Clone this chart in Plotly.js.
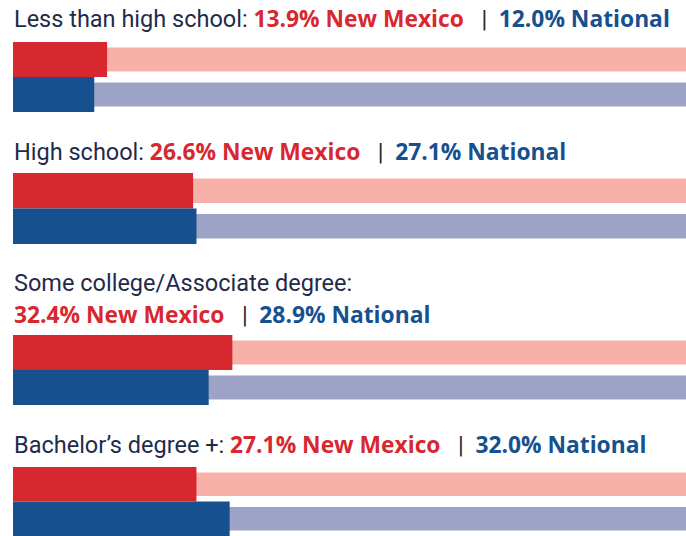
<!DOCTYPE html>
<html>
<head>
<meta charset="utf-8">
<script src="https://cdn.plot.ly/plotly-3.0.1.min.js"></script>
<style>
  html, body { margin: 0; padding: 0; background: #ffffff; }
  #chart { width: 686px; height: 536px; }
</style>
</head>
<body>
<div id="chart"></div>
<script>
// ---- data ----
const categories = ["Less than high school", "High school", "Some college/Associate degree", "Bachelor\u2019s degree +"];
const newMexico = [13.9, 26.6, 32.4, 27.1];
const national = [12.0, 27.1, 28.9, 32.0];
const seriesNames = ["New Mexico", "National"];
const fullScale = 100;
const wrapLabel = [false, false, true, false];

// ---- styling ----
const RED = "#d7282f", PINK = "#f8b1a8", BLUE = "#17508e", LAV = "#9da3c6";
const TXT = "#1f2b4b";
const BOLD = "font-family:'Open Sans';font-weight:bold;font-size:22.8px;";
const rowDomains = [[0.7910, 0.9216], [0.5448, 0.6772], [0.2444, 0.3750], [0, 0.1287]];
const labelY = [[19], [152], [283, 314], [444]];

const traces = [];
const layout = {
  width: 686, height: 536,
  margin: {l: 13, r: 0, t: 0, b: 0, pad: 0},
  paper_bgcolor: "#ffffff", plot_bgcolor: "#ffffff",
  showlegend: false,
  barmode: "overlay",
  xaxis: {range: [0, 99.4], visible: false, fixedrange: true},
  annotations: [],
  font: {family: "Roboto", size: 23.5, color: TXT}
};

categories.forEach((cat, i) => {
  const yname = i === 0 ? "y" : "y" + (i + 1);
  const ykey = i === 0 ? "yaxis" : "yaxis" + (i + 1);
  layout[ykey] = {
    domain: rowDomains[i], anchor: "x", type: "category",
    categoryorder: "array", categoryarray: seriesNames,
    range: [1.5, -0.5], visible: false, fixedrange: true
  };
  traces.push({
    type: "bar", orientation: "h", xaxis: "x", yaxis: yname,
    y: seriesNames, x: [fullScale, fullScale], width: 0.686,
    marker: {color: [PINK, LAV], line: {width: 0}}, hoverinfo: "skip"
  });
  traces.push({
    type: "bar", orientation: "h", xaxis: "x", yaxis: yname,
    y: seriesNames, x: [newMexico[i], national[i]], width: 1,
    marker: {color: [RED, BLUE], line: {width: 0}},
    name: cat
  });

  const values = '<span style="' + BOLD + 'color:' + RED + '">' + newMexico[i].toFixed(1) + '% ' + seriesNames[0] + '</span>' +
    '<span style="color:#2a2a2a">\u00a0\u00a0\u00a0|\u00a0\u00a0</span>' +
    '<span style="' + BOLD + 'color:' + BLUE + '">' + national[i].toFixed(1) + '% ' + seriesNames[1] + '</span>';
  const lines = wrapLabel[i] ? [cat + ':', values] : [cat + ': ' + values];
  lines.forEach((t, k) => {
    layout.annotations.push({
      xref: "paper", yref: "paper", x: 0, xanchor: "left", xshift: -1,
      y: 1 - labelY[i][k] / 536, yanchor: "middle",
      text: t, showarrow: false,
      font: {family: "Roboto", size: 23.5, color: TXT}
    });
  });
});

Plotly.newPlot("chart", traces, layout, {displayModeBar: false, staticPlot: true});
</script>
</body>
</html>
